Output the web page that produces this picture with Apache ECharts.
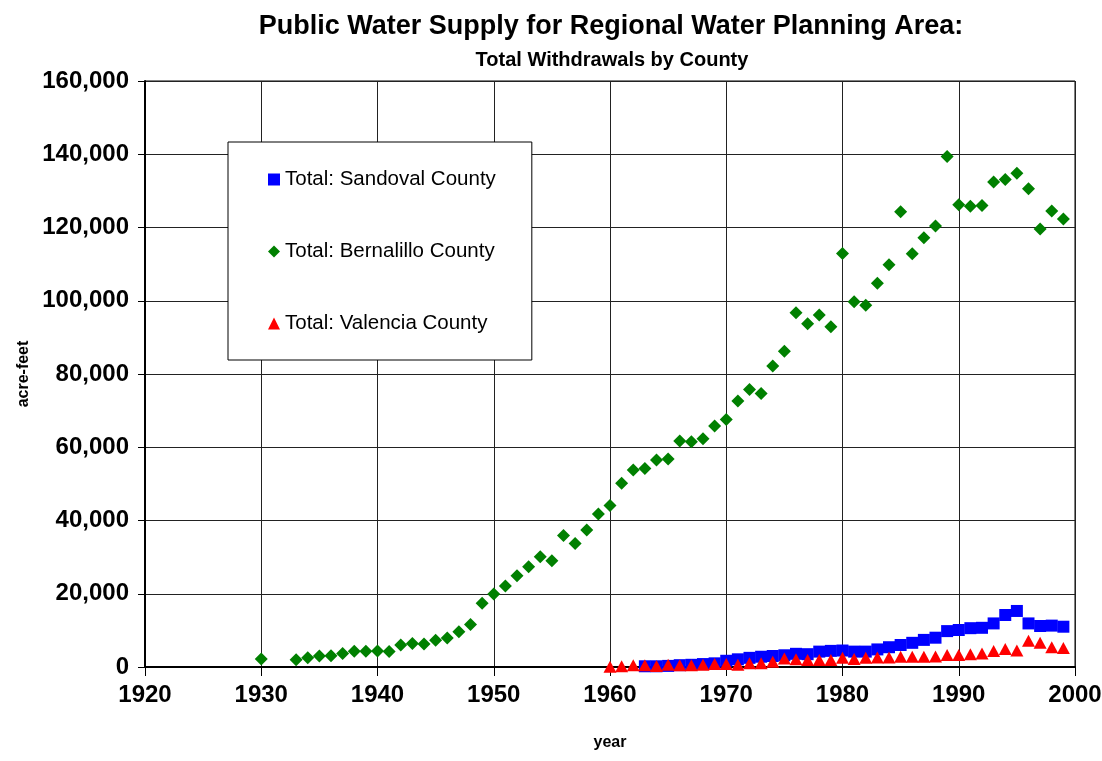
<!DOCTYPE html>
<html>
<head>
<meta charset="utf-8">
<script src="https://cdn.jsdelivr.net/npm/echarts@6/dist/echarts.min.js"></script>
<style>
html,body{margin:0;padding:0;background:#fff;}
#chart{width:1102px;height:761px;}
</style>
</head>
<body>
<div id="chart"></div>
<script>
var titleText = 'Public Water Supply for Regional Water Planning Area:';
var subtitleText = 'Total Withdrawals by County';
var seriesNames = ['Total: Sandoval County', 'Total: Bernalillo County', 'Total: Valencia County'];

var sandovalYears = [1963,1964,1965,1966,1967,1968,1969,1970,1971,1972,1973,1974,1975,1976,1977,1978,1979,1980,1981,1982,1983,1984,1985,1986,1987,1988,1989,1990,1991,1992,1993,1994,1995,1996,1997,1998,1999];
var sandovalValues = [200,200,300,500,600,800,1000,1700,2100,2500,2800,3000,3200,3600,3500,4200,4400,4500,4200,4200,4800,5400,6000,6600,7400,8000,9800,10100,10600,10700,11900,14200,15300,11900,11200,11300,11000];

var bernalilloYears = [1930,1933,1934,1935,1936,1937,1938,1939,1940,1941,1942,1943,1944,1945,1946,1947,1948,1949,1950,1951,1952,1953,1954,1955,1956,1957,1958,1959,1960,1961,1962,1963,1964,1965,1966,1967,1968,1969,1970,1971,1972,1973,1974,1975,1976,1977,1978,1979,1980,1981,1982,1983,1984,1985,1986,1987,1988,1989,1990,1991,1992,1993,1994,1995,1996,1997,1998,1999];
var bernalilloValues = [2200,2000,2500,3000,3100,3700,4300,4300,4400,4200,6000,6400,6300,7300,7900,9600,11600,17400,19900,22100,24900,27400,30100,29000,35900,33700,37400,41800,44100,50200,53800,54200,56500,56800,61700,61500,62300,65800,67600,72600,75800,74700,82200,86200,96700,93700,96100,92900,112900,99700,98800,104800,109800,124300,112800,117200,120400,139400,126200,125800,126000,132400,133100,134800,130600,119600,124500,122300];

var valenciaYears = [1960,1961,1962,1963,1964,1965,1966,1967,1968,1969,1970,1971,1972,1973,1974,1975,1976,1977,1978,1979,1980,1981,1982,1983,1984,1985,1986,1987,1988,1989,1990,1991,1992,1993,1994,1995,1996,1997,1998,1999];
var valenciaValues = [100,200,450,450,300,600,450,450,600,800,800,600,1000,1000,1400,2300,2100,1900,1900,1900,2500,2200,2500,2600,2600,2800,2800,2800,2900,3300,3300,3500,3700,4400,4900,4500,7200,6600,5400,5200];

function pairs(xs, ys){ return xs.map(function(x,i){ return [x, ys[i]]; }); }

var FONT = 'Liberation Sans, Arial, sans-serif';
var chart = echarts.init(document.getElementById('chart'), null, {renderer:'canvas'});
chart.setOption({
  backgroundColor: '#ffffff',
  animation: false,
  title: [
    {text: titleText, left: 606, top: 8, textAlign: 'center',
     textStyle: {fontFamily: FONT, fontWeight: 'bold', fontSize: 27, color: '#000'}},
    {text: subtitleText, left: 607, top: 45, textAlign: 'center',
     textStyle: {fontFamily: FONT, fontWeight: 'bold', fontSize: 20, color: '#000'}}
  ],
  legend: {
    orient: 'vertical',
    left: 228, top: 142,
    padding: [27, 36, 26, 40],
    itemGap: 51,
    itemWidth: 12, itemHeight: 12,
    backgroundColor: '#fff',
    borderColor: '#000', borderWidth: 1,
    textStyle: {fontFamily: FONT, fontSize: 20.5, color: '#000'},
    data: seriesNames
  },
  grid: {left: 145, right: 27, top: 81, bottom: 94, show: true, borderColor: '#000', borderWidth: 1,
    backgroundColor: 'transparent', containLabel: false, outerBoundsMode: 'none'},
  xAxis: {
    type: 'value', min: 1920, max: 2000, interval: 10,
    name: 'year', nameLocation: 'middle', nameGap: 68,
    nameTextStyle: {fontFamily: FONT, fontWeight: 'bold', fontSize: 16, color: '#000'},
    axisLine: {show: true, onZero: false, lineStyle: {color: '#000', width: 2}},
    axisTick: {show: true, inside: false, length: 9, lineStyle: {color: '#000', width: 1}},
    axisLabel: {margin: 16, fontFamily: FONT, fontWeight: 'bold', fontSize: 24, color: '#000',
      formatter: function(v){ return String(v); }},
    splitLine: {show: true, lineStyle: {color: '#222', width: 1}}
  },
  yAxis: {
    type: 'value', min: 0, max: 160000, interval: 20000,
    name: 'acre-feet', nameLocation: 'middle', nameGap: 110, nameRotate: 90,
    nameTextStyle: {fontFamily: FONT, fontWeight: 'bold', fontSize: 16, color: '#000'},
    axisLine: {show: true, lineStyle: {color: '#000', width: 2}},
    axisTick: {show: true, inside: false, length: 7, lineStyle: {color: '#000', width: 1}},
    axisLabel: {margin: 16, fontFamily: FONT, fontWeight: 'bold', fontSize: 24, color: '#000',
      formatter: function(v){ return v.toLocaleString('en-US'); }},
    splitLine: {show: true, lineStyle: {color: '#222', width: 1}}
  },
  series: [
    {name: seriesNames[0], type: 'scatter', symbol: 'rect', symbolSize: 12,
     itemStyle: {color: '#0000ff', opacity: 1}, data: pairs(sandovalYears, sandovalValues)},
    {name: seriesNames[1], type: 'scatter', symbol: 'diamond', symbolSize: 13,
     itemStyle: {color: '#008000', opacity: 1}, data: pairs(bernalilloYears, bernalilloValues)},
    {name: seriesNames[2], type: 'scatter', symbol: 'triangle', symbolSize: [13, 12],
     itemStyle: {color: '#ff0000', opacity: 1}, data: pairs(valenciaYears, valenciaValues)}
  ]
});
</script>
</body>
</html>
